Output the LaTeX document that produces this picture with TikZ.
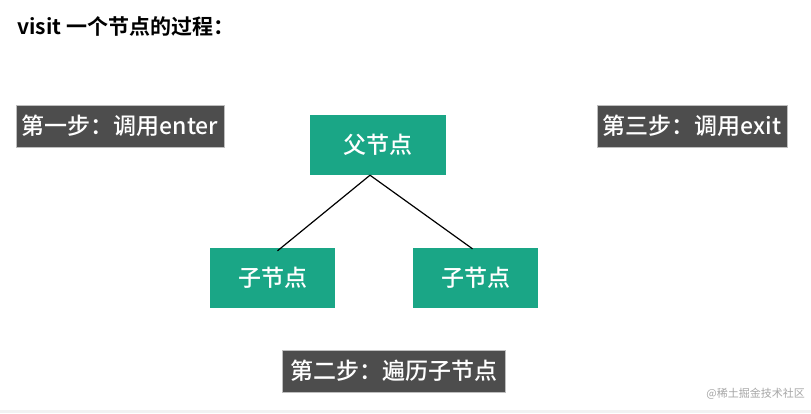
\documentclass[tikz,border=0pt]{standalone}
\usepackage{fontspec}
\setmainfont{Noto Sans CJK SC}[BoldFont={Noto Sans CJK SC Bold}]
\newfontfamily\medfont{Noto Sans CJK SC Medium}
\definecolor{nodegreen}{RGB}{26,166,134}
\definecolor{stepgray}{RGB}{77,77,77}
\definecolor{stepedge}{RGB}{190,190,190}
\begin{document}
\begin{tikzpicture}[x=1pt,y=-1pt,
  treebox/.style={fill=nodegreen,draw=none,text=white,inner sep=0pt,
    font=\medfont\fontsize{23}{23}\selectfont},
  stepbox/.style={fill=stepgray,draw=stepedge,line width=0.8pt,text=white,inner sep=0pt,
    font=\medfont\fontsize{23}{23}\selectfont},
  branch/.style={draw=black,line width=1.2pt}]
\useasboundingbox[fill=white] (0,0) rectangle (811,413);
\fill[black!5] (0,410) rectangle (811,413);

% heading
\node[anchor=base west,inner sep=0pt,font=\bfseries\fontsize{21}{21}\selectfont] (title) at (17,34) {visit 一个节点的过程：};

% steps
\node[stepbox,minimum width=208,minimum height=42] (s1) at (120,126) {第一步：调用enter};
\node[stepbox,minimum width=190,minimum height=42] (s3) at (692,126) {第三步：调用exit};
\node[stepbox,minimum width=223,minimum height=42] (s2) at (393.5,371) {第二步：遍历子节点};

% tree
\node[treebox,minimum width=136,minimum height=60] (p) at (378,145) {父节点};
\node[treebox,minimum width=125,minimum height=60] (c1) at (272.5,278) {子节点};
\node[treebox,minimum width=125,minimum height=60] (c2) at (475.5,278) {子节点};
\coordinate (pj) at ([xshift=-8]p.south);
\draw[branch] (pj) -- ([xshift=5,yshift=-3]c1.north);
\draw[branch] (pj) -- ([xshift=-3,yshift=-1]c2.north);

% watermark
\node[anchor=base east,inner sep=0pt,text=black!35,font=\fontsize{11}{11}\selectfont] (wm) at (805,397) {@稀土掘金技术社区};
\end{tikzpicture}
\end{document}
